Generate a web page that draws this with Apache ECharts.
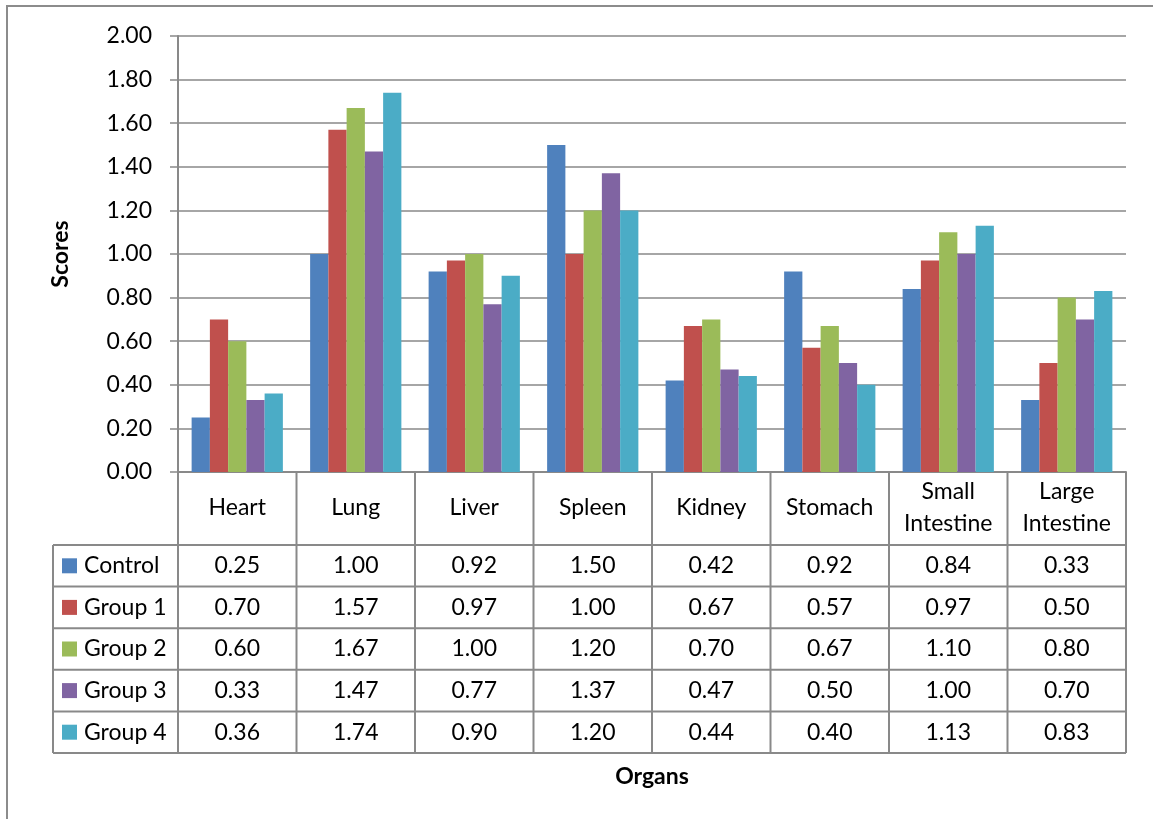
<!DOCTYPE html>
<html>
<head>
<meta charset="utf-8">
<script src="https://cdn.jsdelivr.net/npm/echarts@6/dist/echarts.min.js"></script>
<style>html,body{margin:0;padding:0;background:#fff;}#c{width:1153px;height:819px;}</style>
</head>
<body>
<div id="c"></div>
<script>
const categories = ['Heart', 'Lung', 'Liver', 'Spleen', 'Kidney', 'Stomach', 'Small\nIntestine', 'Large\nIntestine'];
const seriesNames = ['Control', 'Group 1', 'Group 2', 'Group 3', 'Group 4'];
const control = [0.25, 1.00, 0.92, 1.50, 0.42, 0.92, 0.84, 0.33];
const group1  = [0.70, 1.57, 0.97, 1.00, 0.67, 0.57, 0.97, 0.50];
const group2  = [0.60, 1.67, 1.00, 1.20, 0.70, 0.67, 1.10, 0.80];
const group3  = [0.33, 1.47, 0.77, 1.37, 0.47, 0.50, 1.00, 0.70];
const group4  = [0.36, 1.74, 0.90, 1.20, 0.44, 0.40, 1.13, 0.83];
const seriesValues = [control, group1, group2, group3, group4];
const colors = ['#4F81BD', '#C0504D', '#9BBB59', '#8064A2', '#4BACC6'];
const yMin = 0, yMax = 2, yStep = 0.2;

const FONT = 'Lato';
const FS = 23;
const LINE = '#898989';

const chart = echarts.init(document.getElementById('c'), null, {renderer: 'canvas'});

const option = {
  animation: false,
  backgroundColor: '#fff',
  textStyle: {fontFamily: FONT},
  grid: {left: 178, right: 27, top: 36, bottom: 347, containLabel: false},
  xAxis: {
    type: 'category',
    data: categories,
    boundaryGap: true,
    axisLine: {show: true, lineStyle: {color: LINE, width: 2}},
    axisTick: {show: false},
    axisLabel: {
      show: true, interval: 0, margin: 36, verticalAlign: 'middle',
      fontFamily: FONT, fontSize: FS, color: '#000', lineHeight: 32
    },
    name: 'Organs',
    nameLocation: 'middle',
    nameGap: 293,
    nameTextStyle: {fontFamily: FONT, fontSize: FS, fontWeight: 'bold', color: '#000'}
  },
  yAxis: {
    type: 'value',
    min: yMin, max: yMax, interval: yStep,
    axisLine: {show: true, lineStyle: {color: LINE, width: 2}},
    axisTick: {show: true, length: 8, lineStyle: {color: LINE, width: 1.5}},
    splitLine: {show: true, lineStyle: {color: LINE, width: 1.5}},
    axisLabel: {
      margin: 26, fontFamily: FONT, fontSize: FS, color: '#000',
      formatter: v => v.toFixed(2)
    },
    name: 'Scores',
    nameLocation: 'middle',
    nameRotate: 90,
    nameGap: 106,
    nameTextStyle: {fontFamily: FONT, fontSize: FS, fontWeight: 'bold', color: '#000'}
  },
  series: seriesNames.map((n, i) => ({
    name: n,
    type: 'bar',
    data: seriesValues[i],
    barGap: '0%',
    barCategoryGap: '23%',
    itemStyle: {color: colors[i]}
  }))
};
chart.setOption(option);

// Build data table under the axis from the arrays, using the grid's own geometry
const rect = chart.getModel().getComponent('grid', 0).coordinateSystem.getRect();
const nCat = categories.length;
const catW = rect.width / nCat;
const axisY = rect.y + rect.height;
const headerH = 73;
const rowH = 41.6;
const legendLeft = 53;
const tableTop = axisY + headerH;
const tableBottom = tableTop + rowH * seriesNames.length;
const rightX = rect.x + rect.width;

const g = [];
const ls = {stroke: LINE, lineWidth: 2};
// outer chart border
g.push({type: 'rect', shape: {x: 7, y: 6, width: 1300, height: 1000}, style: {fill: null, stroke: '#8c8c8c', lineWidth: 2}, silent: true});
// vertical lines at category boundaries
for (let k = 0; k <= nCat; k++) {
  const x = rect.x + k * catW;
  g.push({type: 'line', shape: {x1: x, y1: axisY, x2: x, y2: tableBottom}, style: ls, silent: true});
}
// legend column left edge
g.push({type: 'line', shape: {x1: legendLeft, y1: tableTop, x2: legendLeft, y2: tableBottom}, style: ls, silent: true});
// horizontal lines
for (let r = 0; r <= seriesNames.length; r++) {
  const y = tableTop + r * rowH;
  g.push({type: 'line', shape: {x1: legendLeft, y1: y, x2: rightX, y2: y}, style: ls, silent: true});
}
// rows
seriesNames.forEach((n, i) => {
  const cy = tableTop + (i + 0.5) * rowH;
  g.push({type: 'rect', shape: {x: legendLeft + 9, y: cy - 7.5, width: 15, height: 15}, style: {fill: colors[i]}, silent: true});
  g.push({type: 'text', x: legendLeft + 31, y: cy, style: {text: n, font: FS + 'px ' + FONT, fill: '#000', textAlign: 'left', textVerticalAlign: 'middle'}, silent: true});
  seriesValues[i].forEach((v, k) => {
    const cx = rect.x + (k + 0.5) * catW;
    g.push({type: 'text', x: cx, y: cy, style: {text: v.toFixed(2), font: FS + 'px ' + FONT, fill: '#000', textAlign: 'center', textVerticalAlign: 'middle'}, silent: true});
  });
});
chart.setOption({graphic: {elements: g}});
</script>
</body>
</html>
